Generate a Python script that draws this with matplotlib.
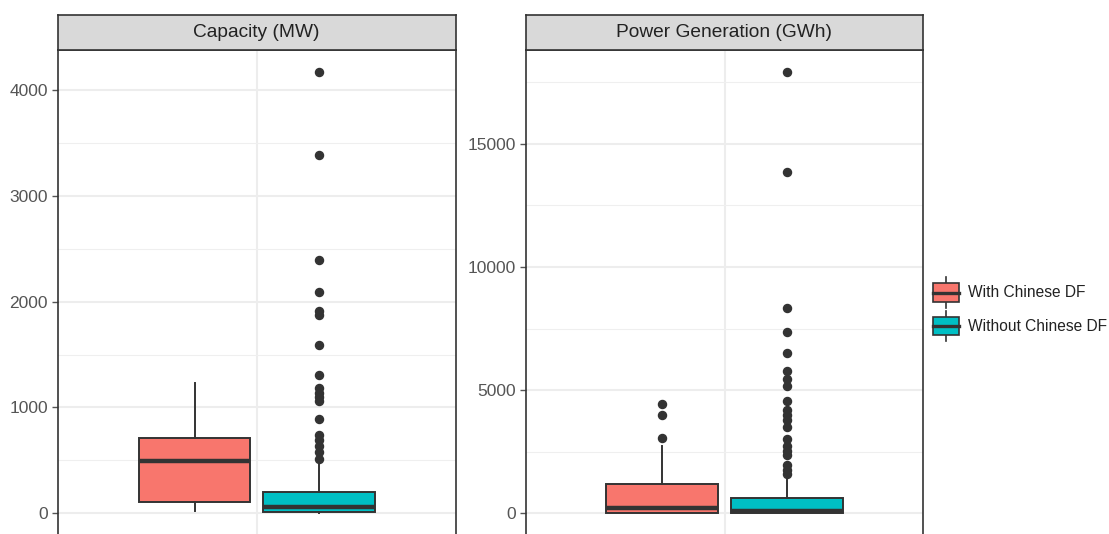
import matplotlib
matplotlib.use("Agg")
import matplotlib.pyplot as plt
from matplotlib.patches import Rectangle
from matplotlib.lines import Line2D

plt.rcParams['font.family'] = ['Liberation Sans', 'DejaVu Sans']

# ---- data ----
groups = ['With Chinese DF', 'Without Chinese DF']
colors = ['#F8766D', '#00BFC4']
panel_titles = ['Capacity (MW)', 'Power Generation (GWh)']

# capacity (MW): whislo, q1, median, q3, whishi
cap_with = [20, 105, 490, 712, 1235]
cap_without = [0, 10, 55, 203, 480]
cap_with_out = []
cap_without_out = [4170, 3390, 2390, 2090, 1910, 1870, 1590, 1310, 1180, 1140,
                   1100, 1060, 890, 740, 690, 640, 580, 510]

# power generation (GWh)
gen_with = [0, 30, 194, 1206, 2731]
gen_without = [0, 10, 100, 624, 1414]
gen_with_out = [4436, 4006, 3050]
gen_without_out = [17911, 13863, 8345, 7375, 6502, 5781, 5434, 5157, 4561, 4187,
                   3979, 3771, 3493, 3008, 2731, 2523, 2384, 1969, 1761, 1594]

cap_ticks = [0, 1000, 2000, 3000, 4000]
cap_minor = [500, 1500, 2500, 3500]
gen_ticks = [0, 5000, 10000, 15000]
gen_minor = [2500, 7500, 12500, 17500]

W, H = 1109, 534
DARK = '#333333'


def fx(px):
    return px / W


def fy(py):
    return 1 - py / H


def stats(five, fliers):
    lo, q1, med, q3, hi = five
    return dict(whislo=lo, q1=q1, med=med, q3=q3, whishi=hi, fliers=fliers)


def panel(left, right, title, s_with, s_without, ticks, minor):
    top, bottom, strip_top = 50, 535.3, 15.3
    ax = fig.add_axes([fx(left), fy(bottom), fx(right - left), fy(top) - fy(bottom)])
    data_all = [v for s in s_with + s_without for v in
                [s['whislo'], s['whishi']] + list(s['fliers'])]
    lo, hi = min(data_all), max(data_all)
    rng = hi - lo
    ax.set_ylim(lo - 0.05 * rng, hi + 0.05 * rng)
    ax.set_xlim(0.4, 1.6)

    for st, c, pos in [(s_with[0], colors[0], 1 - 0.1875),
                       (s_without[0], colors[1], 1 + 0.1875)]:
        ax.bxp([st], positions=[pos], widths=0.3375, patch_artist=True,
               showcaps=False, zorder=3,
               boxprops=dict(facecolor=c, edgecolor=DARK, linewidth=1.4),
               whiskerprops=dict(color=DARK, linewidth=1.4),
               medianprops=dict(color=DARK, linewidth=3.2, solid_capstyle='butt'),
               flierprops=dict(marker='o', markersize=5.8, markerfacecolor=DARK,
                               markeredgecolor=DARK, linestyle='none'))

    ax.set_yticks(ticks)
    ax.set_yticks(minor, minor=True)
    ax.set_xticks([1])
    ax.set_xticklabels([''])
    ax.grid(True, which='major', color='#EDEDED', linewidth=1.5, zorder=0)
    ax.grid(True, which='minor', axis='y', color='#EFEFEF', linewidth=0.8, zorder=0)
    ax.set_axisbelow(True)
    ax.tick_params(axis='y', which='major', length=4.5, width=1.0, color='#555555',
                   labelsize=12.5, labelcolor='#555555', pad=2.5)
    ax.tick_params(axis='y', which='minor', length=0)
    ax.tick_params(axis='x', length=0)
    for sp in ax.spines.values():
        sp.set_color(DARK)
        sp.set_linewidth(1.2)

    sax = fig.add_axes([fx(left), fy(top), fx(right - left), fy(strip_top) - fy(top)])
    sax.set_facecolor('#D9D9D9')
    sax.set_xticks([])
    sax.set_yticks([])
    for sp in sax.spines.values():
        sp.set_color(DARK)
        sp.set_linewidth(1.2)
    sax.text(0.5, 0.5, title, ha='center', va='center', fontsize=13.8, color='#222222',
             transform=sax.transAxes)
    return ax


fig = plt.figure(figsize=(W / 100, H / 100), dpi=100)

panel(57.7, 455.7, panel_titles[0],
      [stats(cap_with, cap_with_out)], [stats(cap_without, cap_without_out)],
      cap_ticks, cap_minor)
panel(525.7, 923.3, panel_titles[1],
      [stats(gen_with, gen_with_out)], [stats(gen_without, gen_without_out)],
      gen_ticks, gen_minor)

# legend drawn in pixel coordinates
lax = fig.add_axes([0, 0, 1, 1], facecolor='none')
lax.set_xlim(0, W)
lax.set_ylim(H, 0)
lax.axis('off')
key_left, key_w = 932.7, 26.6
for i, (lab, c) in enumerate(zip(groups, colors)):
    cy = 292.5 + i * 33.7
    bh = 18.5
    cx = key_left + key_w / 2
    lax.add_line(Line2D([cx, cx], [cy - bh / 2 - 6, cy + bh / 2 + 6], color=DARK, lw=1.2))
    lax.add_patch(Rectangle((key_left, cy - bh / 2), key_w, bh, facecolor=c,
                            edgecolor=DARK, lw=1.2, zorder=3))
    lax.add_line(Line2D([key_left, key_left + key_w], [cy, cy], color=DARK, lw=2.4, zorder=4))
    lax.text(968, cy, lab, ha='left', va='center', fontsize=11.2, color='#222222')

fig.savefig('out.png', dpi=100)
